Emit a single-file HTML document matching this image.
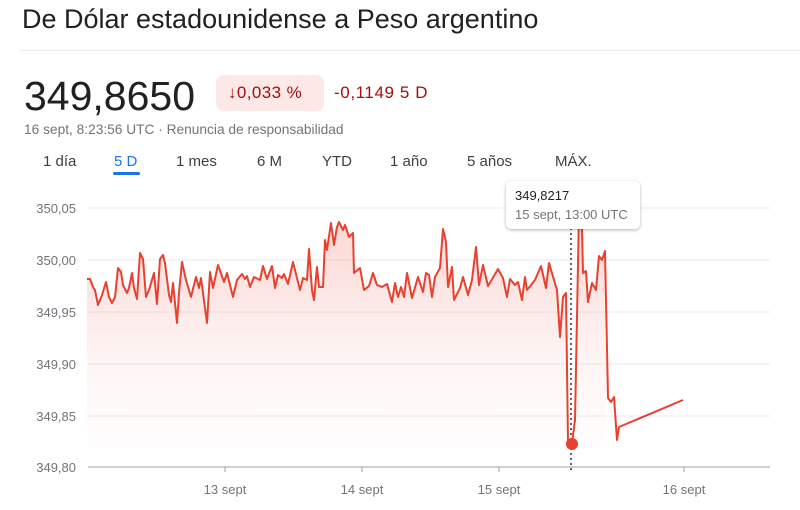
<!DOCTYPE html>
<html><head><meta charset="utf-8"><style>
body{margin:0;width:800px;height:510px;background:#fff;font-family:"Liberation Sans",Arial,sans-serif;position:relative;overflow:hidden}
.a{position:absolute;white-space:nowrap}
</style></head><body>
<div class="a" style="left:22px;top:4px;font-size:27px;color:#202124">De Dólar estadounidense a Peso argentino</div>
<div class="a" style="left:20px;top:50px;width:780px;height:1px;background:#e8eaed"></div>
<div class="a" style="left:24px;top:73px;font-size:41px;color:#202124">349,8650</div>
<div class="a" style="left:216px;top:75px;width:108px;height:36px;background:#fce8e6;border-radius:8px"></div>
<div class="a" style="left:228px;top:83px;font-size:17px;letter-spacing:0.4px;color:#a50e0e">↓0,033 %</div>
<div class="a" style="left:334px;top:83px;font-size:17px;letter-spacing:0.6px;color:#a50e0e">-0,1149 5 D</div>
<div class="a" style="left:24px;top:121px;font-size:14px;color:#70757a;transform:scaleX(0.98);transform-origin:0 0">16 sept, 8:23:56 UTC · Renuncia de responsabilidad</div>
<div class="a" style="top:153px;left:0;font-size:15px;color:#3c4043">
<span class="a" style="left:43px">1 día</span>
<span class="a" style="left:114px;color:#1a73e8">5 D</span>
<span class="a" style="left:176px">1 mes</span>
<span class="a" style="left:257px">6 M</span>
<span class="a" style="left:322px">YTD</span>
<span class="a" style="left:390px">1 año</span>
<span class="a" style="left:467px">5 años</span>
<span class="a" style="left:555px">MÁX.</span>
</div>
<div class="a" style="left:113px;top:172px;width:27px;height:3px;background:#1a73e8;border-radius:2px"></div>
<svg class="a" style="left:0;top:0" width="800" height="510">
<defs><linearGradient id="g" x1="0" y1="0" x2="0" y2="1"><stop offset="0" stop-color="#ea4335" stop-opacity="0.22"/><stop offset="0.6" stop-color="#ea4335" stop-opacity="0.05"/><stop offset="1" stop-color="#ea4335" stop-opacity="0"/></linearGradient></defs>
<g stroke="#ebebeb" stroke-width="1">
<line x1="88" y1="208" x2="770" y2="208"/><line x1="88" y1="260" x2="770" y2="260"/><line x1="88" y1="312" x2="770" y2="312"/><line x1="88" y1="364" x2="770" y2="364"/><line x1="88" y1="416" x2="770" y2="416"/></g>
<line x1="88" y1="467" x2="770" y2="467" stroke="#9aa0a6"/>
<g stroke="#9aa0a6"><line x1="225" y1="467" x2="225" y2="472"/><line x1="362" y1="467" x2="362" y2="472"/><line x1="499" y1="467" x2="499" y2="472"/><line x1="684" y1="467" x2="684" y2="472"/></g>
<g font-size="13" fill="#70757a" text-anchor="end"><text x="76" y="213">350,05</text><text x="76" y="265">350,00</text><text x="76" y="317">349,95</text><text x="76" y="369">349,90</text><text x="76" y="421">349,85</text><text x="76" y="472">349,80</text></g>
<g font-size="13" fill="#70757a" text-anchor="middle"><text x="225" y="494">13 sept</text><text x="362" y="494">14 sept</text><text x="499" y="494">15 sept</text><text x="684" y="494">16 sept</text></g>
<polygon fill="url(#g)" points="87,279 90,279 93,287 95,290 98,305 102,295 106,282 109,297 112,303 115,297 118,268 121,272 123,285 127,293 129,288 132,273 134,288 137,299 140,253 143,259 146,297 149,290 154,273 157,304 160,259 163,255 165,263 169,295 171,302 173,283 177,323 179,293 182,262 186,280 191,297 196,277 199,288 201,278 207,323 210,272 213,288 218,265 224,282 227,273 233,297 237,280 242,274 245,279 247,276 250,287 254,277 260,280 263,266 267,279 272,266 275,288 278,275 282,278 284,274 288,284 293,262 300,290 303,278 307,280 309,249 312,290 314,300 317,267 319,287 323,287 325,240 327,250 331,223 334,245 337,227 339,222 343,230 345,225 349,237 353,233 354,273 360,268 364,290 369,286 373,273 377,285 382,287 387,284 392,302 395,283 398,297 401,287 404,297 407,273 412,298 418,277 423,292 426,273 429,275 432,297 435,277 440,268 443,229 446,242 448,287 452,267 454,300 460,288 463,277 468,295 472,280 476,247 479,285 483,265 488,286 498,269 503,278 507,297 510,279 515,285 518,282 522,300 525,277 527,290 535,280 541,266 546,288 549,263 557,290 560,337 563,297 566,293 568,442 572,443 575,420 579,213 582,230 583,273 586,271 588,302 592,283 596,290 599,256 602,260 605,251 605,467 87,467"/>
<polyline fill="none" stroke="#e8412f" stroke-width="2" stroke-linejoin="round" points="87,279 90,279 93,287 95,290 98,305 102,295 106,282 109,297 112,303 115,297 118,268 121,272 123,285 127,293 129,288 132,273 134,288 137,299 140,253 143,259 146,297 149,290 154,273 157,304 160,259 163,255 165,263 169,295 171,302 173,283 177,323 179,293 182,262 186,280 191,297 196,277 199,288 201,278 207,323 210,272 213,288 218,265 224,282 227,273 233,297 237,280 242,274 245,279 247,276 250,287 254,277 260,280 263,266 267,279 272,266 275,288 278,275 282,278 284,274 288,284 293,262 300,290 303,278 307,280 309,249 312,290 314,300 317,267 319,287 323,287 325,240 327,250 331,223 334,245 337,227 339,222 343,230 345,225 349,237 353,233 354,273 360,268 364,290 369,286 373,273 377,285 382,287 387,284 392,302 395,283 398,297 401,287 404,297 407,273 412,298 418,277 423,292 426,273 429,275 432,297 435,277 440,268 443,229 446,242 448,287 452,267 454,300 460,288 463,277 468,295 472,280 476,247 479,285 483,265 488,286 498,269 503,278 507,297 510,279 515,285 518,282 522,300 525,277 527,290 535,280 541,266 546,288 549,263 557,290 560,337 563,297 566,293 568,442 572,443 575,420 579,213 582,230 583,273 586,271 588,302 592,283 596,290 599,256 602,260 605,251 608,398 611,402 614,397 617,440 619,427 683,400"/>
<line x1="571" y1="228" x2="571" y2="470" stroke="#5f6368" stroke-width="2" stroke-dasharray="2,3"/>
<circle cx="572" cy="444" r="6" fill="#e8412f"/>
</svg>
<div class="a" style="left:506px;top:181px;width:134px;height:48px;background:#fff;border-radius:5px;box-shadow:0 1px 3px rgba(0,0,0,0.3)"></div>
<div class="a" style="left:515px;top:188px;font-size:13px;color:#202124">349,8217</div>
<div class="a" style="left:515px;top:207px;font-size:13px;color:#70757a">15 sept, 13:00 UTC</div>
</body></html>
